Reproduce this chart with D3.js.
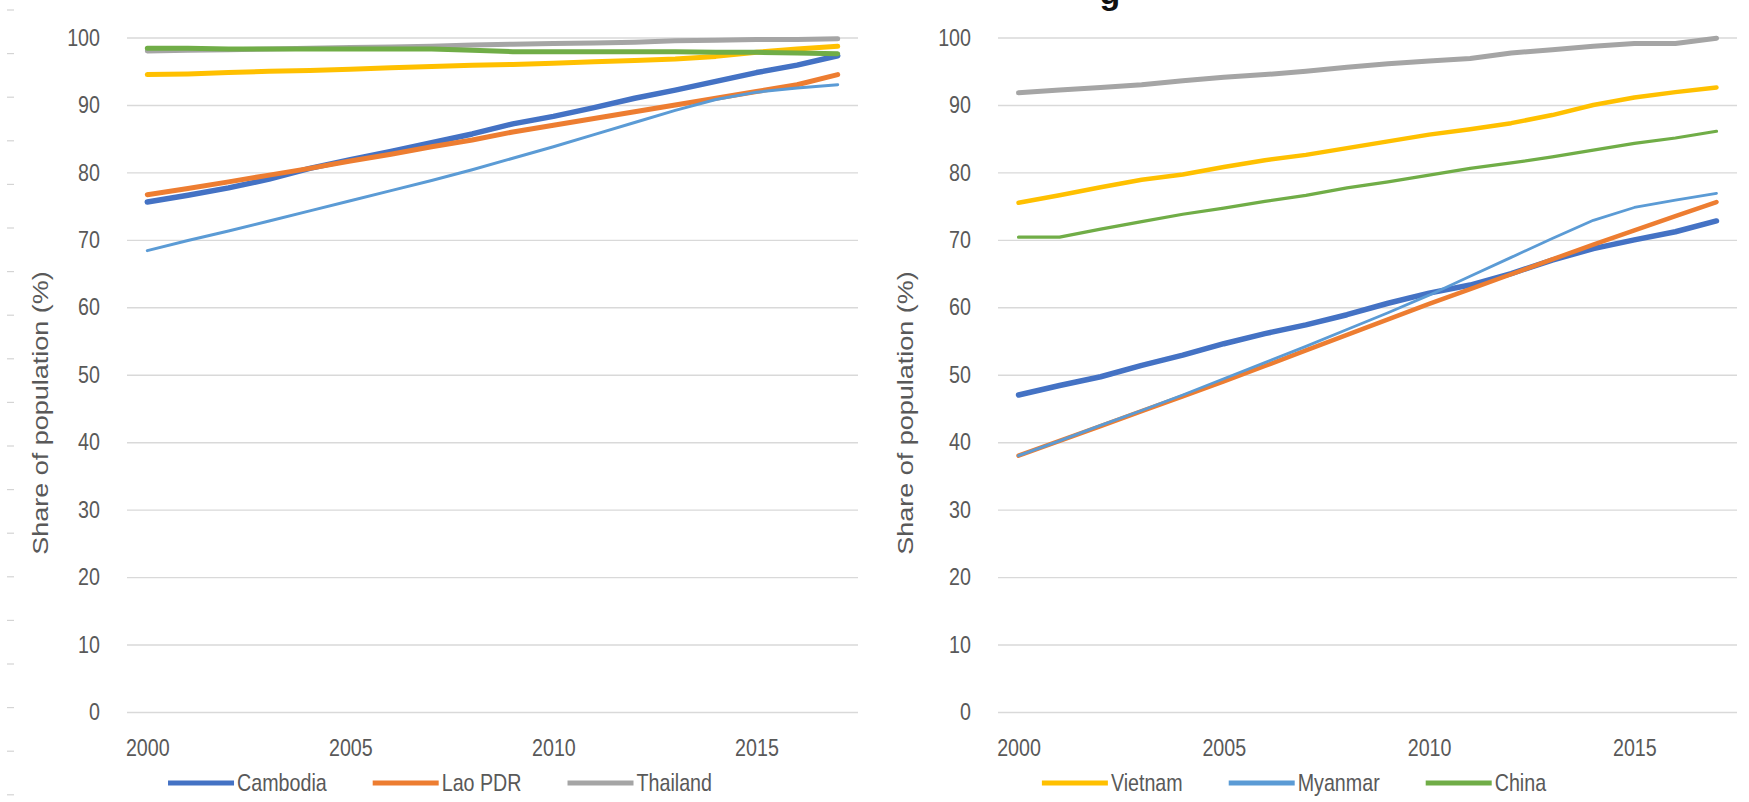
<!DOCTYPE html>
<html>
<head>
<meta charset="utf-8">
<script src="https://cdn.jsdelivr.net/npm/d3@7"></script>
<style>
  html, body { margin: 0; padding: 0; background: #ffffff; }
  svg { display: block; }
  text { font-family: "Liberation Sans", Arial, sans-serif; fill: #595959; }
</style>
</head>
<body>
<svg id="chart" width="1749" height="802"></svg>
<script>
// Years on the category axis
const years = [2000, 2001, 2002, 2003, 2004, 2005, 2006, 2007, 2008, 2009,
               2010, 2011, 2012, 2013, 2014, 2015, 2016, 2017];
const xTickYears = [2000, 2005, 2010, 2015];
const yTicks = [0, 10, 20, 30, 40, 50, 60, 70, 80, 90, 100];

// Left panel: share of population (%)
const leftCambodia = [75.6, 76.6, 77.7, 79.0, 80.6, 81.9, 83.1, 84.4, 85.7, 87.2, 88.3, 89.6, 91.0, 92.2, 93.5, 94.8, 95.9, 97.3];
const leftLao      = [76.7, 77.6, 78.6, 79.6, 80.6, 81.7, 82.7, 83.8, 84.8, 86.0, 87.0, 88.0, 89.0, 90.0, 91.0, 92.0, 93.0, 94.5];
const leftThailand = [98.0, 98.1, 98.2, 98.3, 98.4, 98.5, 98.6, 98.7, 98.9, 99.0, 99.1, 99.2, 99.3, 99.5, 99.6, 99.7, 99.7, 99.8];
const leftVietnam  = [94.5, 94.6, 94.8, 95.0, 95.1, 95.3, 95.5, 95.7, 95.9, 96.0, 96.2, 96.4, 96.6, 96.8, 97.2, 97.8, 98.3, 98.7];
const leftMyanmar  = [68.4, 69.9, 71.3, 72.8, 74.3, 75.8, 77.3, 78.8, 80.4, 82.1, 83.8, 85.6, 87.4, 89.2, 90.8, 91.9, 92.5, 93.0];
const leftChina    = [98.4, 98.4, 98.3, 98.3, 98.3, 98.3, 98.3, 98.3, 98.1, 97.9, 97.9, 97.9, 97.9, 97.9, 97.8, 97.8, 97.7, 97.6];

// Right panel: share of population (%)
const rightCambodia = [47.0, 48.4, 49.7, 51.4, 52.9, 54.6, 56.1, 57.4, 58.9, 60.6, 62.1, 63.3, 65.0, 67.0, 68.7, 70.0, 71.2, 72.8];
const rightLao      = [38.0, 40.2, 42.4, 44.6, 46.8, 49.0, 51.3, 53.6, 55.9, 58.2, 60.5, 62.7, 64.9, 67.1, 69.3, 71.4, 73.5, 75.6];
const rightThailand = [91.8, 92.2, 92.6, 93.0, 93.6, 94.1, 94.5, 95.0, 95.6, 96.1, 96.5, 96.9, 97.7, 98.2, 98.7, 99.1, 99.1, 99.9];
const rightVietnam  = [75.5, 76.6, 77.8, 78.9, 79.7, 80.8, 81.8, 82.6, 83.6, 84.6, 85.6, 86.4, 87.3, 88.5, 90.0, 91.1, 91.9, 92.6];
const rightMyanmar  = [38.0, 40.2, 42.5, 44.7, 47.0, 49.4, 51.8, 54.2, 56.7, 59.2, 61.8, 64.6, 67.4, 70.2, 72.9, 74.8, 75.9, 76.9];
const rightChina    = [70.4, 70.4, 71.6, 72.7, 73.8, 74.7, 75.7, 76.6, 77.7, 78.6, 79.6, 80.6, 81.4, 82.3, 83.3, 84.3, 85.1, 86.1];

const colors = {
  "Cambodia": "#4472C4", "Lao PDR": "#ED7D31", "Thailand": "#A5A5A5",
  "Vietnam": "#FFC000", "Myanmar": "#5B9BD5", "China": "#70AD47"
};

// horizontal squeeze applied to all labels (tall, narrow lettering)
const SQ = 0.82;

const svg = d3.select("#chart");

// faint scan marks along the left edge
const edgeMarks = d3.range(10, 802, 43.6);
svg.append("g").selectAll("line").data(edgeMarks).join("line")
  .attr("x1", 7).attr("x2", 14).attr("y1", d => d).attr("y2", d => d)
  .attr("stroke", "#d4d4d4").attr("stroke-width", 1.2);

// clipped heading above the panels (only the descender shows)
svg.append("text")
  .attr("x", 1110).attr("y", 4)
  .attr("text-anchor", "middle")
  .style("font-size", "34px").style("font-weight", "bold").style("fill", "#111")
  .text("g");

function drawPanel(cfg) {
  const x = d3.scalePoint().domain(years).range([cfg.x0, cfg.x1]).padding(0.5);
  const y = d3.scaleLinear().domain([0, 100]).range([712, 37.5]);
  const g = svg.append("g");

  // gridlines + y labels
  const yAxis = g.append("g")
    .attr("transform", `translate(${cfg.x0},0)`)
    .call(d3.axisLeft(y).tickValues(yTicks).tickSize(-(cfg.x1 - cfg.x0)).tickPadding(27));
  yAxis.select(".domain").remove();
  yAxis.selectAll(".tick line").attr("stroke", "#d9d9d9").attr("stroke-width", 1.4);
  yAxis.selectAll(".tick text")
    .style("font-size", "24px").attr("fill", "#595959")
    .attr("x", 0).attr("transform", `translate(-27,0) scale(${SQ},1)`);

  // x labels
  const xAxis = g.append("g")
    .attr("transform", "translate(0,712)")
    .call(d3.axisBottom(x).tickValues(xTickYears).tickSize(0).tickPadding(27));
  xAxis.select(".domain").remove();
  xAxis.selectAll(".tick text")
    .style("font-size", "24px").attr("fill", "#595959")
    .attr("transform", `scale(${SQ},1)`);

  // y title
  g.append("text")
    .attr("transform", `translate(${cfg.titleX},413) scale(${SQ},1) rotate(-90)`)
    .attr("text-anchor", "middle")
    .attr("dominant-baseline", "central")
    .style("font-size", "27px")
    .text("Share of population (%)");

  // series lines
  const line = d3.line().x((d, i) => x(years[i])).y(d => y(d));
  cfg.series.forEach(s => {
    g.append("path")
      .datum(s.values)
      .attr("d", line)
      .attr("fill", "none")
      .attr("stroke", colors[s.name])
      .attr("stroke-width", s.width)
      .attr("stroke-linejoin", "round")
      .attr("stroke-linecap", "round");
  });

  // legend
  const leg = g.append("g");
  const items = cfg.legend.map(name => {
    const it = leg.append("g");
    it.append("line").attr("x1", 0).attr("x2", 66).attr("y1", 0).attr("y2", 0)
      .attr("stroke", colors[name]).attr("stroke-width", 5);
    const t = it.append("text").attr("x", 0).attr("y", 0)
      .attr("transform", `translate(69,0) scale(${SQ},1)`)
      .attr("dominant-baseline", "central")
      .style("font-size", "24px").text(name);
    return { it, w: 69 + t.node().getComputedTextLength() * SQ };
  });
  const gap = 46;
  const total = d3.sum(items, d => d.w) + gap * (items.length - 1);
  let cx = cfg.legendCenter - total / 2;
  items.forEach(d => {
    d.it.attr("transform", `translate(${cx},783)`);
    cx += d.w + gap;
  });
}

drawPanel({
  x0: 127, x1: 858, titleX: 40, legendCenter: 440,
  legend: ["Cambodia", "Lao PDR", "Thailand"],
  series: [
    { name: "Cambodia", values: leftCambodia, width: 5.5 },
    { name: "Lao PDR",  values: leftLao,      width: 5 },
    { name: "Thailand", values: leftThailand, width: 5 },
    { name: "Vietnam",  values: leftVietnam,  width: 5 },
    { name: "Myanmar",  values: leftMyanmar,  width: 3 },
    { name: "China",    values: leftChina,    width: 5 }
  ]
});

drawPanel({
  x0: 998, x1: 1737, titleX: 905, legendCenter: 1294,
  legend: ["Vietnam", "Myanmar", "China"],
  series: [
    { name: "Cambodia", values: rightCambodia, width: 5.5 },
    { name: "Lao PDR",  values: rightLao,      width: 4.5 },
    { name: "Thailand", values: rightThailand, width: 5 },
    { name: "Vietnam",  values: rightVietnam,  width: 4.5 },
    { name: "Myanmar",  values: rightMyanmar,  width: 2.8 },
    { name: "China",    values: rightChina,    width: 3.2 }
  ]
});
</script>
</body>
</html>
